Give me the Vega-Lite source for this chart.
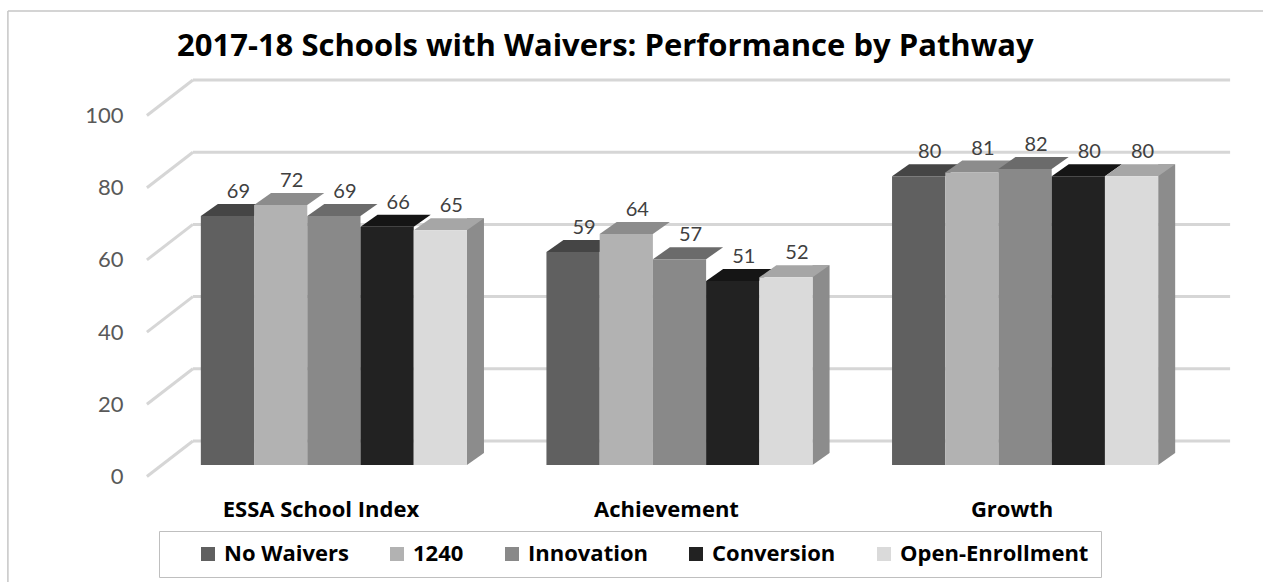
{
  "$schema": "https://vega.github.io/schema/vega-lite/v6.json",
  "width": 1061,
  "height": 361,
  "autosize": {"type": "none"},
  "padding": {"left": 149, "top": 104, "right": 53, "bottom": 117},
  "background": "white",
  "config": {"view": {"stroke": null}, "font": "Lato"},
  "title": {
    "text": "2017-18 Schools with Waivers: Performance by Pathway",
    "font": "Open Sans",
    "fontSize": 31,
    "fontWeight": "bold",
    "color": "#000000",
    "anchor": "start",
    "frame": "group",
    "dx": 28,
    "dy": 5,
    "offset": -48
  },
  "datasets": {
    "bars": [
      {"category": "ESSA School Index", "series": "No Waivers", "value": 69},
      {"category": "ESSA School Index", "series": "1240", "value": 72},
      {"category": "ESSA School Index", "series": "Innovation", "value": 69},
      {"category": "ESSA School Index", "series": "Conversion", "value": 66},
      {"category": "ESSA School Index", "series": "Open-Enrollment", "value": 65},
      {"category": "Achievement", "series": "No Waivers", "value": 59},
      {"category": "Achievement", "series": "1240", "value": 64},
      {"category": "Achievement", "series": "Innovation", "value": 57},
      {"category": "Achievement", "series": "Conversion", "value": 51},
      {"category": "Achievement", "series": "Open-Enrollment", "value": 52},
      {"category": "Growth", "series": "No Waivers", "value": 80},
      {"category": "Growth", "series": "1240", "value": 81},
      {"category": "Growth", "series": "Innovation", "value": 82},
      {"category": "Growth", "series": "Conversion", "value": 80},
      {"category": "Growth", "series": "Open-Enrollment", "value": 80}
    ],
    "grid": [{"v": 0}, {"v": 20}, {"v": 40}, {"v": 60}, {"v": 80}, {"v": 100}],
    "frame": [{"edge": "outline"}]
  },
  "layer": [
    {
      "data": {"name": "grid"},
      "mark": {"type": "rule", "stroke": "#d6d6d6", "strokeWidth": 3, "yOffset": -24, "xOffset": -141, "x2Offset": 205},
      "encoding": {
        "x": {"datum": "ESSA School Index", "type": "nominal", "title": null},
        "x2": {"datum": "Growth"},
        "y": {
          "field": "v", "type": "quantitative", "title": null,
          "scale": {"domain": [0, 100], "nice": false, "zero": true},
          "axis": {
            "title": null, "values": [0, 20, 40, 60, 80, 100], "grid": false, "domain": false,
            "ticks": false, "tickSize": 0, "labelPadding": 26, "labelOffset": 11.5,
            "labelFontSize": 22, "labelColor": "#595959", "labelFont": "Lato"
          }
        }
      }
    },
    {
      "data": {"name": "grid"},
      "mark": {"type": "rule", "stroke": "#d6d6d6", "strokeWidth": 3, "xOffset": -187, "x2Offset": -141, "yOffset": 11.5, "y2Offset": -24},
      "encoding": {
        "x": {"datum": "ESSA School Index", "type": "nominal", "title": null},
        "x2": {"datum": "ESSA School Index"},
        "y": {"field": "v", "type": "quantitative", "title": null},
        "y2": {"field": "v"}
      }
    },
    {
      "data": {"name": "frame"},
      "mark": {"type": "rule", "stroke": "#c6c6c6", "strokeWidth": 1.5, "xOffset": -326, "x2Offset": 260, "yOffset": -93},
      "encoding": {
        "x": {"datum": "ESSA School Index", "type": "nominal", "title": null},
        "x2": {"datum": "Growth"},
        "y": {"datum": 100, "type": "quantitative", "title": null}
      }
    },
    {
      "data": {"name": "frame"},
      "mark": {"type": "rule", "stroke": "#c6c6c6", "strokeWidth": 1.5, "xOffset": -326, "yOffset": -93, "y2Offset": 140},
      "encoding": {
        "x": {"datum": "ESSA School Index", "type": "nominal", "title": null},
        "y": {"datum": 100, "type": "quantitative", "title": null},
        "y2": {"datum": 0}
      }
    },
    {
      "data": {"name": "bars"},
      "transform": [{"filter": "datum.series === 'Open-Enrollment'"}],
      "mark": {"type": "rule", "strokeWidth": 17, "strokeCap": "butt", "stroke": "#8c8c8c", "yOffset": -12},
      "encoding": {
        "x": {"field": "category", "type": "nominal", "sort": ["ESSA School Index", "Achievement", "Growth"], "title": null,
              "bandPosition": 1.032,
              "scale": {"paddingInner": 0.23, "paddingOuter": 0.15}},
        "y": {"field": "value", "type": "quantitative", "title": null},
        "y2": {"datum": 0}
      }
    },
    {
      "data": {"name": "bars"},
      "mark": {"type": "point", "filled": true, "fill": "white", "opacity": 1, "strokeWidth": 0, "size": 10000,
               "shape": "M0.532,0L0.872,-0.24L0.92,-0.24L0.92,0.04L0.532,0.04Z"},
      "encoding": {
        "x": {"field": "category", "type": "nominal", "sort": ["ESSA School Index", "Achievement", "Growth"], "title": null},
        "xOffset": {"field": "series", "type": "nominal", "sort": ["No Waivers", "1240", "Innovation", "Conversion", "Open-Enrollment"],
                    "scale": {"paddingInner": 0, "paddingOuter": 0}},
        "y": {"datum": 0, "type": "quantitative", "title": null}
      }
    },
    {
      "data": {"name": "bars"},
      "mark": {"type": "point", "filled": true, "opacity": 1, "strokeWidth": 0, "size": 10000,
               "shape": "M-0.532,0L0.532,0L0.872,-0.24L-0.192,-0.24Z"},
      "encoding": {
        "x": {"field": "category", "type": "nominal", "sort": ["ESSA School Index", "Achievement", "Growth"], "title": null},
        "xOffset": {"field": "series", "type": "nominal", "sort": ["No Waivers", "1240", "Innovation", "Conversion", "Open-Enrollment"]},
        "y": {"field": "value", "type": "quantitative", "title": null},
        "fill": {"field": "series", "type": "nominal", "legend": null,
                 "scale": {"domain": ["No Waivers", "1240", "Innovation", "Conversion", "Open-Enrollment"],
                           "range": ["#454545", "#8c8c8c", "#6b6b6b", "#151515", "#a6a6a6"]}}
      }
    },
    {
      "data": {"name": "bars"},
      "mark": {"type": "bar"},
      "encoding": {
        "x": {"field": "category", "type": "nominal", "sort": ["ESSA School Index", "Achievement", "Growth"], "title": null,
              "axis": {"title": null, "domain": false, "ticks": false, "tickSize": 0, "labelPadding": 44, "labelOffset": -13,
                       "labelAlign": "center", "labelBaseline": "middle", "labelLimit": 400,
                       "labelFontSize": 22, "labelFontWeight": "bold", "labelColor": "#000000", "labelFont": "Open Sans", "labelAngle": 0}},
        "xOffset": {"field": "series", "type": "nominal", "sort": ["No Waivers", "1240", "Innovation", "Conversion", "Open-Enrollment"]},
        "y": {"field": "value", "type": "quantitative", "stack": null, "title": null},
        "color": {"field": "series", "type": "nominal",
                  "scale": {"domain": ["No Waivers", "1240", "Innovation", "Conversion", "Open-Enrollment"],
                            "range": ["#606060", "#b2b2b2", "#898989", "#222222", "#dadada"]},
                  "legend": {"orient": "none", "legendX": 10, "legendY": 427, "direction": "horizontal",
                             "title": " ", "titleOrient": "left", "titleFontSize": 1, "titlePadding": 26,
                             "symbolType": "square", "symbolSize": 196, "symbolStrokeWidth": 0,
                             "labelFont": "Open Sans", "labelFontSize": 22, "labelFontWeight": "bold", "labelColor": "#000000",
                             "labelOffset": 5, "labelLimit": 400, "columnPadding": 37, "padding": 12,
                             "strokeColor": "#bfbfbf", "fillColor": "white"}}
      }
    },
    {
      "data": {"name": "bars"},
      "mark": {"type": "text", "dx": 11, "dy": -24, "fontSize": 20, "font": "Lato", "color": "#404040", "baseline": "middle"},
      "encoding": {
        "x": {"field": "category", "type": "nominal", "sort": ["ESSA School Index", "Achievement", "Growth"], "title": null},
        "xOffset": {"field": "series", "type": "nominal", "sort": ["No Waivers", "1240", "Innovation", "Conversion", "Open-Enrollment"]},
        "y": {"field": "value", "type": "quantitative", "title": null},
        "text": {"field": "value", "type": "quantitative"}
      }
    }
  ],
  "resolve": {"scale": {"fill": "independent"}}
}
